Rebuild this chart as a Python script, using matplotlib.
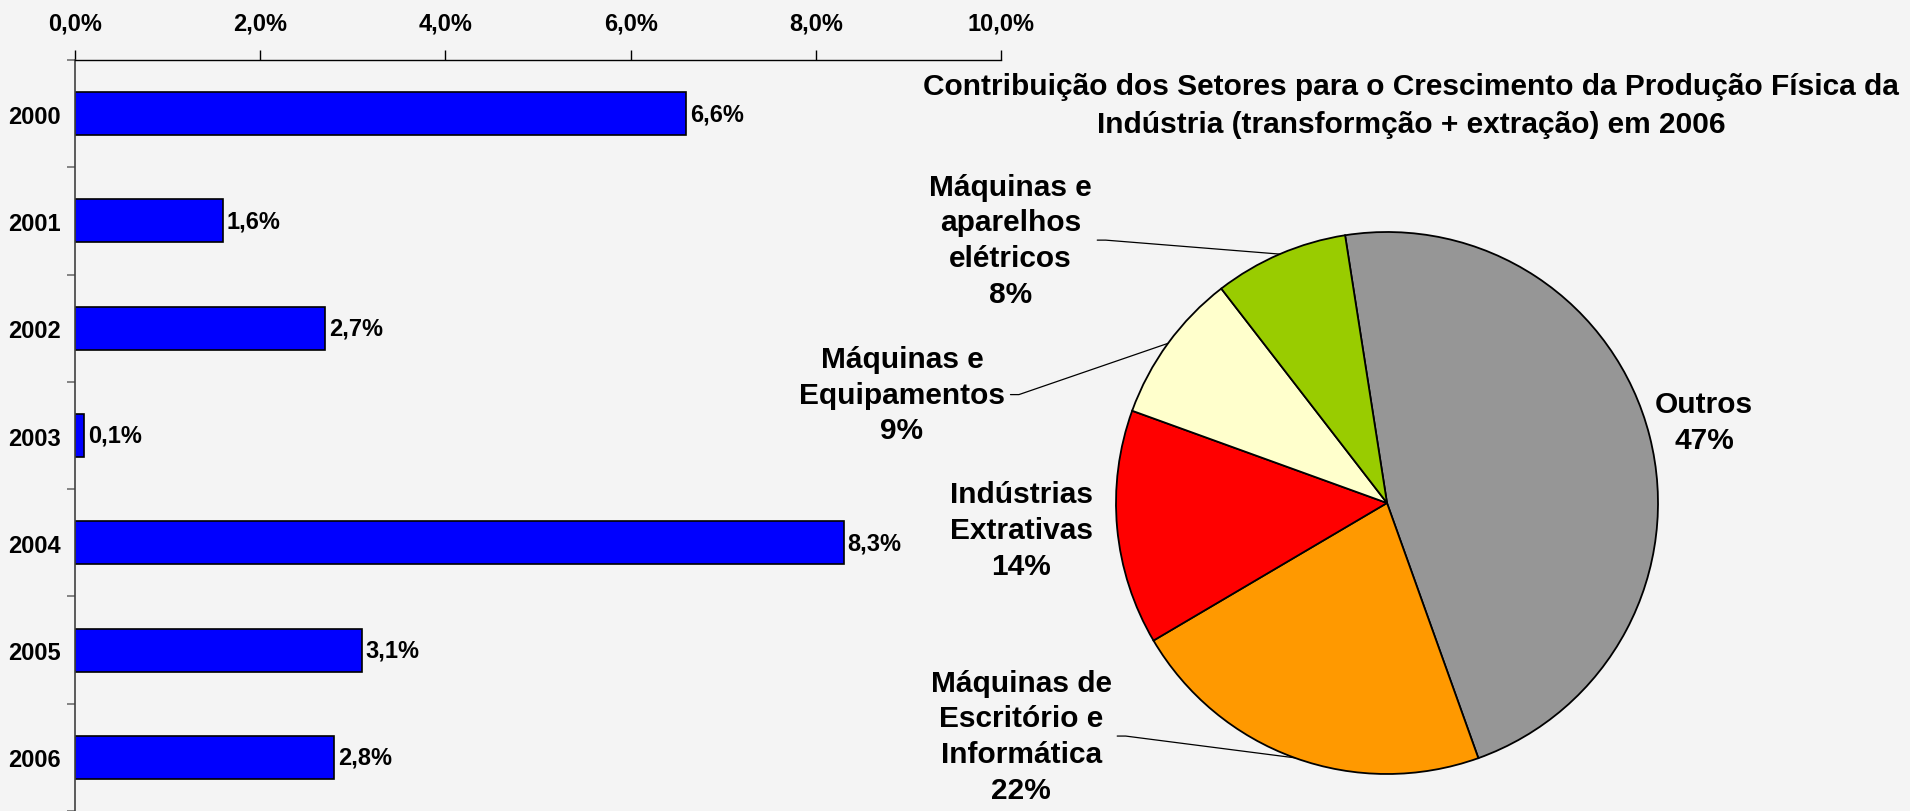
import numpy as np
import matplotlib
matplotlib.use("Agg")
import matplotlib.pyplot as plt
from matplotlib.ticker import FuncFormatter

# bar chart data
years = ["2000", "2001", "2002", "2003", "2004", "2005", "2006"]
growth = [6.6, 1.6, 2.7, 0.1, 8.3, 3.1, 2.8]

# pie chart data
sectors = ["Outros", "Máquinas de\nEscritório e\nInformática", "Indústrias\nExtrativas",
           "Máquinas e\nEquipamentos", "Máquinas e\naparelhos\nelétricos"]
shares = [47, 22, 14, 9, 8]
pie_colors = ["#969696", "#FF9900", "#FF0000", "#FFFFCC", "#99CC00"]

title = ("Contribuição dos Setores para o Crescimento da Produção Física da\n"
         "Indústria (transformção + extração) em 2006")

bg = "#F4F4F4"
font = ["Liberation Sans", "DejaVu Sans"]

W, H = 1910, 812
fig = plt.figure(figsize=(W / 100, H / 100), dpi=100, facecolor=bg)

# ---- bar chart ----
ax = fig.add_axes([75 / W, 0, 926 / W, 751 / H])
ax.set_facecolor("none")
pos = np.arange(len(years))
ax.barh(pos, growth, height=0.4, color="#0000FF", edgecolor="black", linewidth=1.2)
ax.set_xlim(0, 10)
ax.set_ylim(len(years) - 0.5, -0.5)

ax.xaxis.tick_top()
ax.set_xticks(np.arange(0, 10.1, 2))
ax.xaxis.set_major_formatter(FuncFormatter(lambda v, p: f"{v:.1f}%".replace(".", ",")))
ax.tick_params(axis="x", direction="out", length=7, width=1, pad=11)

ax.set_yticks(pos)
ax.set_yticklabels(years)
ax.set_yticks(np.arange(-0.5, len(years), 1), minor=True)
ax.tick_params(axis="y", which="major", length=0, pad=10)
ax.tick_params(axis="y", which="minor", length=6, width=1.2, direction="out", color="#707070")

for lab in ax.get_xticklabels() + ax.get_yticklabels():
    lab.set_family(font)
    lab.set_fontweight("bold")
    lab.set_fontsize(17)

for s in ["right", "bottom"]:
    ax.spines[s].set_visible(False)
ax.spines["left"].set_color("#404040")
ax.spines["left"].set_linewidth(1.2)
ax.spines["top"].set_linewidth(1)

for y, v in zip(pos, growth):
    ax.text(v + 0.04, y, f"{v:.1f}%".replace(".", ","), va="center", ha="left",
            family=font, fontweight="bold", fontsize=17)

# ---- pie chart ----
cx, cy, r = 1387, 504, 271
pax = fig.add_axes([(cx - r) / W, (H - cy - r) / H, 2 * r / W, 2 * r / H])
wedges, _ = pax.pie(shares, colors=pie_colors, startangle=98.9, counterclock=False,
                    wedgeprops=dict(edgecolor="black", linewidth=1.3))
pax.set_xlim(-1, 1)
pax.set_ylim(-1, 1)
pax.set_aspect("equal")

pct = [f"{s}%" for s in shares]
label_pos = [(1.17, 0.30), (-1.35, -0.86), (-1.35, -0.10), (-1.79, 0.40), (-1.39, 0.97)]
leader = [False, True, False, True, True]

for w, name, p, (tx, ty), lead in zip(wedges, sectors, pct, label_pos, leader):
    txt = f"{name}\n{p}"
    if lead:
        mid = np.deg2rad((w.theta1 + w.theta2) / 2)
        pax.annotate(txt, xy=(np.cos(mid), np.sin(mid)), xytext=(tx, ty),
                     ha="center", va="center", multialignment="center",
                     family=font, fontweight="bold", fontsize=21.5, linespacing=1.35,
                     annotation_clip=False,
                     arrowprops=dict(arrowstyle="-", color="black", lw=0.9,
                                     shrinkA=2, shrinkB=0, relpos=(1, 0.5),
                                     connectionstyle="arc,angleA=0,armA=14,angleB=0,armB=0,rad=0"))
    else:
        pax.text(tx, ty, txt, ha="center", va="center", multialignment="center",
                 family=font, fontweight="bold", fontsize=21.5, linespacing=1.35, clip_on=False)

fig.text(1411 / W, 1 - 106 / H, title, ha="center", va="center", multialignment="center",
         family=font, fontweight="bold", fontsize=21.5, linespacing=1.42)

fig.savefig("out.png", dpi=100, facecolor=bg)
